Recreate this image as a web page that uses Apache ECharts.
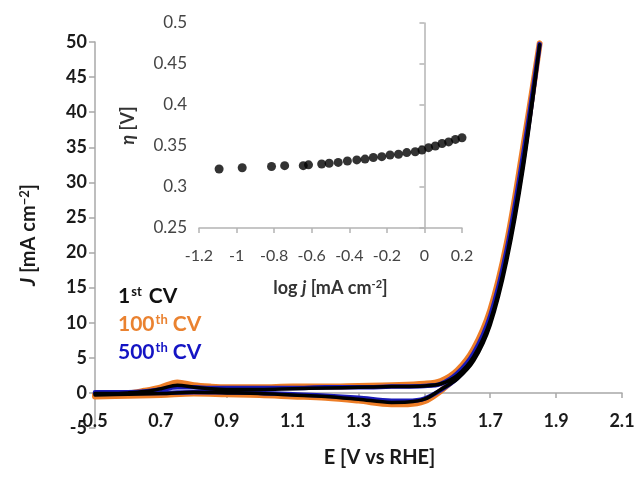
<!DOCTYPE html>
<html>
<head>
<meta charset="utf-8">
<title>CV stability</title>
<script src="https://cdn.jsdelivr.net/npm/echarts@6.0.0/dist/echarts.min.js"></script>
<style>
  html, body { margin: 0; padding: 0; background: #fff; }
  #chart { width: 638px; height: 477px; }
</style>
</head>
<body>
<div id="chart"></div>
<script>
// sweep potential: forward 0.5 -> 1.85, then back to 0.5 (V vs RHE)
const potential = [
  0.5, 0.55, 0.6, 0.65, 0.7, 0.75, 0.8, 0.85, 0.9, 1.0, 1.1, 1.2, 1.3, 1.4, 1.5, 1.55, 1.6, 1.65, 1.7, 1.75, 1.8, 1.85,
  1.8, 1.75, 1.7, 1.65, 1.6, 1.55, 1.5, 1.45, 1.4, 1.3, 1.2, 1.1, 1.0, 0.9, 0.8, 0.7, 0.6, 0.5
]
// current density J [mA cm-2] per cycle, same order as potential
const cv1 = [
  -0.1, -0.1, 0.0, 0.2, 0.6, 1.1, 0.8, 0.6, 0.5, 0.5, 0.6, 0.7, 0.8, 0.9, 1.0, 1.3, 2.5, 5.2, 10.3, 19.5, 33, 49.6,
  32, 18.8, 9.7, 4.6, 2.0, 0.5, -0.9, -1.3, -1.35, -0.9, -0.5, -0.3, -0.1, 0.0, 0.1, -0.1, -0.2, -0.3
]
const cv100 = [
  -0.3, -0.2, -0.1, 0.3, 0.8, 1.5, 1.1, 0.9, 0.8, 0.8, 0.9, 0.9, 1.0, 1.1, 1.3, 1.7, 3.2, 6.3, 11.8, 21.3, 35, 49.8,
  34, 20.6, 11, 5.4, 2.4, 0.3, -1.2, -1.6, -1.6, -1.1, -0.7, -0.5, -0.3, -0.2, -0.1, -0.3, -0.4, -0.5
]
const cv500 = [
  0.1, 0.1, 0.1, 0.2, 0.5, 0.8, 0.8, 0.7, 0.7, 0.7, 0.7, 0.8, 0.8, 0.9, 1.0, 1.3, 2.8, 5.7, 11, 20.4, 34, 49.7,
  33, 19.7, 10.3, 5.0, 2.1, 0.4, -0.8, -1.1, -1.1, -0.7, -0.4, -0.2, 0.0, 0.1, 0.1, 0.0, 0.0, 0.0
]
const potentialTicks = [0.5, 0.7, 0.9, 1.1, 1.3, 1.5, 1.7, 1.9, 2.1]

// inset: Tafel data, log j vs overpotential
const logJ = [
  -1.093, -0.97, -0.814, -0.744, -0.645, -0.617, -0.547, -0.507, -0.459, -0.41, -0.36, -0.316, -0.272,
  -0.227, -0.183, -0.138, -0.094, -0.049, -0.013, 0.022, 0.058, 0.094, 0.129, 0.165, 0.2
]
const eta = [
  0.322, 0.3235, 0.325, 0.326, 0.326, 0.327, 0.328, 0.329, 0.330, 0.3317, 0.333, 0.334, 0.336,
  0.337, 0.339, 0.340, 0.342, 0.343, 0.345, 0.348, 0.350, 0.353, 0.355, 0.358, 0.360
]

const FONT = 'Lato'
const pairs = (ys) => potential.map((x, i) => [x, ys[i]])

const chart = echarts.init(document.getElementById('chart'))

const cvLine = (name, ys, color, width) => ({
  name,
  type: 'line',
  xAxisIndex: 0,
  yAxisIndex: 0,
  data: pairs(ys),
  smooth: 0.35,
  symbol: 'none',
  lineStyle: { color, width, cap: 'round', join: 'round' },
  z: 2,
  silent: true,
})

const option = {
  backgroundColor: '#fff',
  animation: false,
  grid: [
    { left: 95, right: 16, top: 42, bottom: 49, outerBoundsMode: 'none' },
    { left: 199, top: 23, width: 263, height: 205, outerBoundsMode: 'none' },
  ],
  xAxis: [
    {
      type: 'value',
      gridIndex: 0,
      min: 0.5,
      max: 2.1,
      axisLine: { onZero: true, lineStyle: { color: '#a8a8a8', width: 1.5 } },
      axisTick: { show: true, customValues: potentialTicks, length: 5, lineStyle: { color: '#a8a8a8', width: 1.5 } },
      // labels stay at the grid bottom in v6, so pull them up under the zero line
      axisLabel: {
        customValues: potentialTicks,
        margin: -16,
        color: '#1a1a1a',
        fontFamily: FONT,
        fontWeight: 'bold',
        fontSize: 18,
        formatter: (v) => v.toFixed(1),
      },
      splitLine: { show: false },
      name: 'E [V vs RHE]',
      nameLocation: 'middle',
      nameGap: 20,
      nameTextStyle: { fontFamily: FONT, fontWeight: 'bold', fontSize: 20, color: '#1a1a1a', padding: [0, 0, 0, 42] },
    },
    {
      type: 'value',
      gridIndex: 1,
      min: -1.2,
      max: 0.2,
      interval: 0.2,
      axisLine: { onZero: false, lineStyle: { color: '#b4b4b4', width: 1.5 } },
      axisTick: { show: true, length: 5, lineStyle: { color: '#b4b4b4', width: 1.5 } },
      axisLabel: { margin: 20, color: '#444', fontFamily: FONT, fontSize: 16 },
      splitLine: { show: false },
      name: '{n|log }{i|j}{n| [mA cm}{s|-2}{n|]}',
      nameLocation: 'middle',
      nameGap: 51,
      nameTextStyle: {
        rich: {
          n: { fontFamily: FONT, fontWeight: 'bold', fontSize: 18, color: '#333' },
          i: { fontFamily: FONT, fontWeight: 'bold', fontStyle: 'italic', fontSize: 18, color: '#333' },
          s: { fontFamily: FONT, fontWeight: 'bold', fontSize: 11, color: '#333', verticalAlign: 'top', padding: [0, 0, 8, 0] },
        },
      },
    },
  ],
  yAxis: [
    {
      type: 'value',
      gridIndex: 0,
      min: -5,
      max: 50,
      interval: 5,
      axisLine: { show: true, lineStyle: { color: '#a8a8a8', width: 1.5 } },
      axisTick: { show: true, length: 6, lineStyle: { color: '#a8a8a8', width: 1.5 } },
      axisLabel: { margin: 8, color: '#1a1a1a', fontFamily: FONT, fontWeight: 'bold', fontSize: 18 },
      splitLine: { show: false },
      name: '{i|J}{n| [mA cm}{s|−2}{n|]}',
      nameLocation: 'middle',
      nameGap: 56,
      nameTextStyle: {
        rich: {
          n: { fontFamily: FONT, fontWeight: 'bold', fontSize: 20, color: '#1a1a1a' },
          i: { fontFamily: FONT, fontWeight: 'bold', fontStyle: 'italic', fontSize: 20, color: '#1a1a1a' },
          s: { fontFamily: FONT, fontWeight: 'bold', fontSize: 13, color: '#1a1a1a', verticalAlign: 'top', padding: [0, 0, 8, 0] },
        },
      },
    },
    {
      type: 'value',
      gridIndex: 1,
      min: 0.25,
      max: 0.5,
      interval: 0.05,
      axisLine: { show: true, lineStyle: { color: '#b4b4b4', width: 1.5 } },
      axisTick: { show: true, length: 5, lineStyle: { color: '#b4b4b4', width: 1.5 } },
      axisLabel: { margin: 12, color: '#444', fontFamily: FONT, fontSize: 17 },
      splitLine: { show: false },
      name: '{i|η}{n| [V]}',
      nameLocation: 'middle',
      nameGap: 62,
      nameTextStyle: {
        rich: {
          n: { fontFamily: FONT, fontWeight: 'bold', fontSize: 18, color: '#333' },
          i: { fontFamily: FONT, fontWeight: 'bold', fontStyle: 'italic', fontSize: 18, color: '#333' },
        },
      },
    },
  ],
  // legend drawn as coloured text, like the original
  graphic: [
    {
      type: 'text', left: 118, top: 285,
      style: {
        text: '{a|1}{s|st}{a| CV}',
        rich: {
          a: { fontFamily: FONT, fontWeight: 'bold', fontSize: 21, fill: '#111' },
          s: { fontFamily: FONT, fontWeight: 'bold', fontSize: 13, fill: '#111', verticalAlign: 'top', padding: [0, 2, 9, 1] },
        },
      },
    },
    {
      type: 'text', left: 118, top: 313,
      style: {
        text: '{a|100}{s|th}{a| CV}',
        rich: {
          a: { fontFamily: FONT, fontWeight: 'bold', fontSize: 21, fill: '#ea8230' },
          s: { fontFamily: FONT, fontWeight: 'bold', fontSize: 13, fill: '#ea8230', verticalAlign: 'top', padding: [0, 0, 9, 1] },
        },
      },
    },
    {
      type: 'text', left: 118, top: 341,
      style: {
        text: '{a|500}{s|th}{a| CV}',
        rich: {
          a: { fontFamily: FONT, fontWeight: 'bold', fontSize: 21, fill: '#1414c4' },
          s: { fontFamily: FONT, fontWeight: 'bold', fontSize: 13, fill: '#1414c4', verticalAlign: 'top', padding: [0, 0, 9, 1] },
        },
      },
    },
  ],
  series: [
    cvLine('100th CV', cv100, '#ed7d26', 6),
    cvLine('500th CV', cv500, '#1a1ab8', 4.5),
    cvLine('1st CV', cv1, '#000', 3.5),
    {
      name: 'Tafel',
      type: 'scatter',
      xAxisIndex: 1,
      yAxisIndex: 1,
      data: logJ.map((x, i) => [x, eta[i]]),
      symbol: 'circle',
      symbolSize: 9,
      itemStyle: { color: '#000' },
      silent: true,
      z: 3,
    },
  ],
}

chart.setOption(option)
</script>
</body>
</html>
